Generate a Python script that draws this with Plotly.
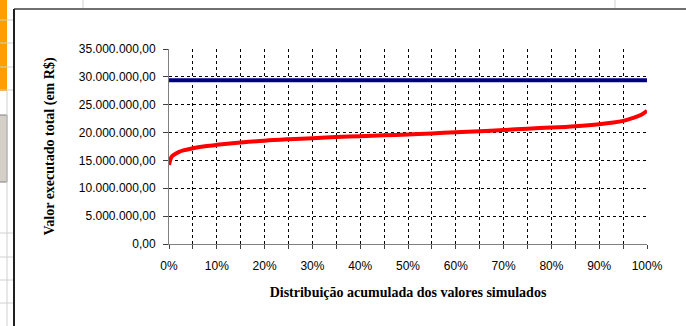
import plotly.graph_objects as go

# ---- data ----
pct = [0, 0.005, 0.01, 0.02, 0.03, 0.05, 0.075, 0.10, 0.15, 0.20, 0.25, 0.30,
       0.35, 0.40, 0.45, 0.50, 0.55, 0.60, 0.65, 0.70, 0.75, 0.80, 0.85, 0.90,
       0.93, 0.95, 0.97, 0.98, 0.99, 1.0]
simulated = [14.2e6, 15.6e6, 16.0e6, 16.5e6, 16.8e6, 17.2e6, 17.55e6, 17.8e6,
             18.2e6, 18.55e6, 18.8e6, 19.0e6, 19.2e6, 19.35e6, 19.5e6, 19.65e6,
             19.85e6, 20.05e6, 20.25e6, 20.45e6, 20.7e6, 20.9e6, 21.15e6,
             21.5e6, 21.8e6, 22.1e6, 22.6e6, 22.9e6, 23.3e6, 23.9e6]
ref_pct = [0, 1.0]
ref_value = [29.37e6, 29.37e6]

x_tickvals = [i / 20 for i in range(21)]
x_ticktext = [f"{int(v*100)}%" if i % 2 == 0 else "" for i, v in enumerate(x_tickvals)]
y_tickvals = [0, 5e6, 10e6, 15e6, 20e6, 25e6, 30e6, 35e6]

W, H = 686, 326
L, R, T, B = 169, 647, 49, 244


def px(x):
    return (x - L) / (R - L)


def py(y):
    return (B - y) / (B - T)


fig = go.Figure()
fig.add_trace(go.Scatter(x=ref_pct, y=ref_value, mode="lines",
                         line=dict(color="#000080", width=4), showlegend=False))
fig.add_trace(go.Scatter(x=pct, y=simulated, mode="lines",
                         line=dict(color="#FF0000", width=4, shape="spline"),
                         showlegend=False))

shapes = []
# spreadsheet background on the left
shapes.append(dict(type="rect", xref="paper", yref="paper", x0=px(0), x1=px(7),
                   y0=py(0), y1=py(91), fillcolor="#FF9E00", line_width=0, layer="below"))
shapes.append(dict(type="rect", xref="paper", yref="paper", x0=px(-2), x1=px(7),
                   y0=py(115), y1=py(182), fillcolor="#D4D0C8",
                   line=dict(color="#808080", width=1), layer="below"))
for yy in [20, 43, 67, 90, 233, 257, 280, 303]:
    shapes.append(dict(type="line", xref="paper", yref="paper", x0=px(0), x1=px(14),
                       y0=py(yy), y1=py(yy), line=dict(color="#D0D0D0", width=1), layer="below"))
shapes.append(dict(type="line", xref="paper", yref="paper", x0=px(7), x1=px(7),
                   y0=py(91), y1=py(326), line=dict(color="#D0D0D0", width=1), layer="below"))
for xx in [83, 615]:
    shapes.append(dict(type="line", xref="paper", yref="paper", x0=px(xx), x1=px(xx),
                       y0=py(0), y1=py(8), line=dict(color="#D0D0D0", width=1), layer="below"))
# chart frame
shapes.append(dict(type="line", xref="paper", yref="paper", x0=px(14), x1=px(690),
                   y0=py(9), y1=py(9), line=dict(color="#404040", width=1.5)))
shapes.append(dict(type="line", xref="paper", yref="paper", x0=px(14), x1=px(14),
                   y0=py(9), y1=py(330), line=dict(color="#202020", width=2)))

fig.update_layout(
    width=W, height=H,
    margin=dict(l=L, r=W - R, t=T, b=H - B),
    paper_bgcolor="white", plot_bgcolor="white",
    separators=",.",
    shapes=shapes,
    xaxis=dict(
        range=[0, 1], tickvals=x_tickvals, ticktext=x_ticktext,
        showgrid=True, gridcolor="black", gridwidth=1, griddash="3px,3px",
        showline=True, linecolor="#808080", linewidth=1,
        ticks="outside", ticklen=4, tickcolor="#404040",
        zeroline=False,
        tickfont=dict(family="Liberation Sans, Arial", size=12, color="black"),
        ticklabelstandoff=7,
        title=dict(text="<b>Distribuição acumulada dos valores simulados</b>",
                   font=dict(family="Liberation Serif, Times New Roman", size=14, color="black"),
                   standoff=14),
    ),
    yaxis=dict(
        range=[0, 35e6], tickvals=y_tickvals, tickformat=",.2f",
        showgrid=True, gridcolor="black", gridwidth=1, griddash="3px,3px",
        showline=True, linecolor="#808080", linewidth=1,
        ticks="outside", ticklen=5, tickcolor="#404040",
        zeroline=False,
        tickfont=dict(family="Liberation Sans, Arial", size=12, color="black"),
        ticklabelstandoff=5,
        title=dict(text="<b>Valor executado total (em R$)</b>",
                   font=dict(family="Liberation Serif, Times New Roman", size=14, color="black"),
                   standoff=20),
    ),
)

fig.write_html("out.html")
